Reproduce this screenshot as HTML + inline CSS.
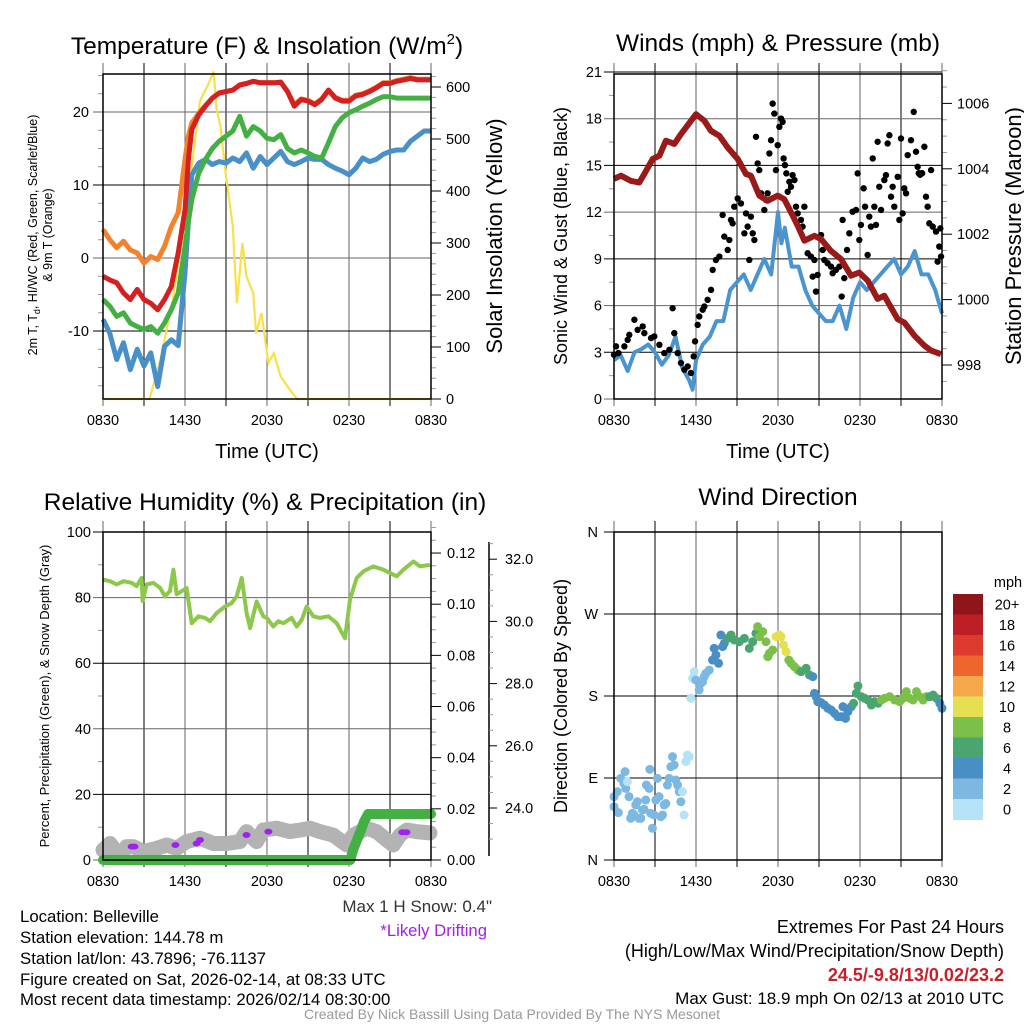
<!DOCTYPE html>
<html><head><meta charset="utf-8"><style>
html,body{margin:0;padding:0;background:#fff;}
svg{display:block;font-family:"Liberation Sans",Arial,sans-serif;}
</style></head><body>
<svg id="fig" width="1024" height="1024" viewBox="0 0 1024 1024" xmlns="http://www.w3.org/2000/svg">
<rect width="1024" height="1024" fill="#fff"/>
<g id="p1"></g>
<g id="p2"></g>
<g id="p3"></g>
<g id="p4"></g>
<text x="267" y="54" font-size="24.5" text-anchor="middle">Temperature (F) &amp; Insolation (W/m<tspan font-size="15" dy="-10">2</tspan><tspan dy="10">)</tspan></text>
<text x="778" y="51" font-size="24.5" text-anchor="middle">Winds (mph) &amp; Pressure (mb)</text>
<text x="265" y="510" font-size="24.5" text-anchor="middle">Relative Humidity (%) &amp; Precipitation (in)</text>
<text x="778" y="505" font-size="24.5" text-anchor="middle">Wind Direction</text>
<g font-size="16.8" fill="#000">
<text x="20" y="922">Location: Belleville</text>
<text x="20" y="943">Station elevation: 144.78 m</text>
<text x="20" y="964">Station lat/lon: 43.7896; -76.1137</text>
<text x="20" y="985">Figure created on Sat, 2026-02-14, at 08:33 UTC</text>
<text x="20" y="1005">Most recent data timestamp: 2026/02/14 08:30:00</text>
</g>
<text x="492" y="912" font-size="17" text-anchor="end" fill="#333">Max 1 H Snow: 0.4"</text>
<text x="487" y="936" font-size="16.7" text-anchor="end" fill="#a020f0">*Likely Drifting</text>
<g font-size="18" text-anchor="end">
<text x="1004" y="933">Extremes For Past 24 Hours</text>
<text x="1004" y="957">(High/Low/Max Wind/Precipitation/Snow Depth)</text>
<text x="1004" y="981" fill="#c8202a" font-weight="bold">24.5/-9.8/13/0.02/23.2</text>
<text x="1004" y="1004" font-size="17">Max Gust: 18.9 mph On 02/13 at 2010 UTC</text>
</g>
<text x="512" y="1019" font-size="14" text-anchor="middle" fill="#999">Created By Nick Bassill Using Data Provided By The NYS Mesonet</text>
</svg>
<script>
// ---------- DATA ----------
const xTickLabels = ["0830","1430","2030","0230","0830"];
// Temperature panel (hours since 0830 UTC)
const tHours = [0,0.5,1,1.5,2,2.5,3,3.5,4,4.5,5,5.5,6,6.25,6.5,7,7.5,8,8.5,9,9.5,10,10.5,11,11.5,12,12.5,13,13.5,14,14.5,15,15.5,16,16.5,17,17.5,18,18.5,19,19.5,20,20.5,21,21.5,22,22.5,23,23.5,24];
const tempT = [-2.5,-3,-3.4,-4.8,-5.7,-4.3,-5.7,-6.2,-7.1,-5.7,-3.9,0.7,6.6,13.5,17.6,19.6,20.8,21.9,22.6,22.8,23,23.7,23.9,24.2,24,24,24,24.1,22.8,20.8,21.7,21.5,21,21.7,23,21.9,21.5,21.5,22.2,22.4,22.8,23.3,23.9,23.9,24.2,24.4,24.6,24.4,24.4,24.4];
const temp9m = [3.9,2.5,1.4,2.3,1.1,0.7,-0.7,0.2,-0.2,1.6,4.3,6.2,13.5,16.7,18.5,19.8,20.9,21.9,22.6,22.8,23,23.7,23.9,24.2,24,24,24,24.1,22.8,21,21.8,21.6,21.1,21.8,23,22,21.6,21.6,22.3,22.5,22.9,23.4,24,24,24.3,24.5,24.7,24.5,24.5,24.5];
const dewT = [-5.7,-6.6,-8,-7.5,-8.9,-9.4,-9.8,-9.4,-10.3,-8.9,-7.1,-4.8,1.6,5,8,11.6,13.5,15,16,16.7,17.4,19.4,16.7,18,17.4,16.4,16.2,16.9,15,14.4,14.8,14.4,13.9,13.7,15.8,18,19.2,19.9,20.3,20.8,21.2,21.7,22.1,22.1,21.9,21.9,21.9,21.9,21.9,21.9];
const heatWC = [-8.4,-10.3,-13.9,-11.6,-15.3,-12.5,-14.8,-13,-17.6,-12.1,-11.2,-12,-2,5,11.4,13,13.5,12.8,13.2,13,13.7,13.2,14.4,12.3,13.9,12.8,13.7,14.6,13.2,12.8,13.2,13.7,13.5,13.5,12.8,12.3,11.9,11.4,12.3,13.7,13.2,13.5,14.2,14.6,14.8,14.8,16,16.7,17.4,17.4];
const solHours = [0,3.4,4.2,5.1,6.1,7.1,7.7,8.1,8.3,8.6,9.0,9.5,9.8,10.2,10.5,11.0,11.2,11.6,12.1,12.5,13.0,13.7,14.2,24];
const solar = [0,0,75,190,364,573,605,630,560,524,428,332,184,300,236,203,126,165,69,88,43,17,0,0];
// Winds panel
const wHours = [0,0.5,1,1.5,2,2.5,3,3.5,4,4.5,5,5.5,5.75,6,6.5,7,7.5,8,8.5,9,9.5,10,10.5,11,11.5,12,12.25,12.5,13,13.5,14,14.5,15,15.5,16,16.5,17,17.5,18,18.5,19,19.5,20,20.5,21,21.5,22,22.5,23,23.5,24];
const windSpd = [2.5,2.8,1.8,3,3.2,3.5,3,2.2,2.8,4,2,1.2,0.6,2.5,3.5,4,5,5,7,7.5,8,7,8,9,8,12,10,11,8.5,8.5,7,6,5.5,5,5,6,4.5,6.5,7.5,7,7.5,8,8.5,9,8,8.5,9.5,8,8,7,5.5];
const pHours = [0,0.51,1.24,1.85,2.22,2.83,3.32,3.8,4.41,4.9,6.0,6.61,7.1,7.71,8.32,9.05,9.66,10.02,10.63,11.24,11.98,12.46,12.95,13.44,13.93,14.66,15.15,15.88,16.61,17.34,17.95,18.56,19.29,19.78,20.76,21.24,21.98,22.71,23.2,23.93];
const pressure = [1003.69,1003.79,1003.63,1003.58,1003.84,1004.3,1004.4,1004.86,1004.76,1005.06,1005.67,1005.47,1005.16,1005.01,1004.65,1004.3,1003.84,1003.79,1003.18,1003.02,1003.18,1003.07,1002.67,1002.26,1001.8,1001.95,1001.85,1001.49,1001.24,1000.73,1000.83,1000.58,1000.02,1000.12,999.4,999.3,998.9,998.59,998.44,998.33];
const gustH = [0,.15,.32,.76,1.0,1.12,1.49,1.73,2.1,2.22,2.71,2.95,3.32,3.68,4.05,4.29,4.41,4.66,4.9,5.15,5.39,5.63,5.83,5.93,6.12,6.24,6.49,6.61,6.85,7.1,7.22,7.46,7.71,7.95,8.07,8.32,8.44,8.56,8.68,8.8,9.05,9.29,9.54,9.66,9.78,9.9,10.02,10.15,10.27,10.39,10.51,10.63,10.76,11.0,11.12,11.24,11.37,11.49,11.61,11.73,11.85,11.98,12.1,12.22,12.34,12.41,12.51,12.61,12.71,12.83,12.95,13.07,13.2,13.32,13.44,13.68,13.8,13.93,14.17,14.41,14.54,14.66,14.78,14.9,15.15,15.27,15.39,15.63,15.88,16.0,16.24,16.49,16.66,16.73,16.85,17.05,17.22,17.46,17.71,17.83,17.95,18.07,18.27,18.37,18.56,18.68,18.8,18.93,19.05,19.17,19.29,19.41,19.54,19.78,19.9,20.02,20.15,20.27,20.39,20.51,20.76,20.88,21.0,21.12,21.24,21.37,21.49,21.73,21.93,22.1,22.22,22.46,22.71,22.83,22.95,23.07,23.2,23.32,23.56,23.68,23.8,23.93,23.88,22.3,22.4,22.55];
const gustV = [2.84,3.38,2.95,3.38,3.8,4.12,5.09,4.44,4.66,4.23,3.91,4.02,3.48,2.95,3.16,5.83,4.23,2.95,2.31,1.88,2.09,1.67,2.74,3.7,4.76,5.3,5.73,5.94,6.37,7.01,8.29,8.93,9.15,11.82,10.43,9.57,10.21,11.5,11.28,12.35,12.88,12.56,10.64,11.92,11.07,8.93,11.71,10.64,10.21,16.84,15.13,14.7,13.21,12.14,12.78,13.21,15.77,16.62,18.97,18.33,14.7,16.3,17.48,18.01,17.8,15.45,15.02,14.49,13.31,13.95,13.63,14.38,14.06,12.35,11.92,11.5,11.07,12.35,9.36,9.15,7.86,8.93,6.9,7.97,10.53,9.57,8.93,8.72,8.5,8.08,8.29,8.5,6.58,11.5,7.76,9.57,10.64,12.03,12.14,14.49,10.21,11.18,13.53,12.35,9.25,11.71,11.07,15.45,12.35,11.18,16.52,13.63,12.14,14.06,14.38,16.41,16.94,12.99,13.63,12.35,14.27,11.5,16.73,11.92,13.53,13.21,15.66,16.62,18.44,15.88,14.91,14.49,16.2,12.99,12.35,11.28,14.7,11.07,10.75,8.82,9.79,9.15,10.96,14.5,14.4,14.5];
// Humidity panel
const rhHours = [0,0.51,1.0,1.49,2.1,2.46,2.83,2.9,3.19,3.68,4.17,4.54,4.9,5.15,5.39,6.12,6.49,6.98,7.46,7.83,8.32,8.93,9.41,9.78,10.15,10.51,10.76,11.24,11.73,11.98,12.46,12.83,13.2,13.8,14.17,14.54,14.9,15.39,15.88,16.49,17.1,17.71,18.07,18.56,19.05,19.78,20.51,21.49,21.98,22.71,23.2,23.93];
const rhVals = [85.5,85,84,85,84.5,83.5,86,79,84,84.5,83,80.4,82,88.5,81,82.9,72.2,74.3,73.8,72.8,75.3,77.3,78.3,80.4,86,75.3,70.7,78.8,74.3,73.8,71.2,72.8,72.2,73.8,71.2,73.2,77.3,74.3,73.8,74.3,72.2,67.6,79.4,86,88,89.5,88.5,86.5,88.5,91,89.5,90];
const prHours = [0,18.1,18.3,18.6,18.9,19.1,19.4,24];
const precip = [0,0,0.004,0.008,0.012,0.015,0.018,0.018];
const sdHours = [0,0.51,1.24,1.73,2.22,2.95,3.92,4.66,5.39,6.12,7.1,8.07,9.05,10.02,10.51,11.24,11.73,12.71,13.68,14.41,15.15,15.88,16.85,17.83,18.32,19.29,20.02,20.76,21.24,21.73,22.22,22.95,23.93];
const snowDepth = [22.65,22.86,22.43,22.76,22.76,22.6,22.7,22.81,22.7,22.92,23.03,22.86,22.86,22.92,23.24,22.92,23.29,23.35,23.24,23.29,23.35,23.24,23.13,22.81,23.13,23.35,23.24,22.97,22.81,23.13,23.29,23.24,23.2];
const driftH = [2.1,2.3,5.3,6.85,7.1,10.5,12.1,21.9,22.2];
const driftD = [22.76,22.76,22.81,22.86,22.97,23.13,23.24,23.22,23.22];
// Wind direction panel
const dirH = [0,0,.24,.32,.49,.73,.86,.81,.98,1.1,1.22,1.34,1.47,1.59,1.71,1.83,1.96,2.08,2.2,2.32,2.37,2.57,2.62,2.69,2.81,2.93,3.06,3.18,3.3,3.42,3.55,3.67,3.79,3.91,4.03,4.16,4.28,4.4,4.52,4.65,4.77,4.89,5.01,5.13,5.26,5.38,5.5,
5.62,5.75,5.87,5.99,6.23,6.36,6.48,6.6,6.72,6.97,7.21,7.33,7.46,7.65,7.82,7.95,8.07,8.31,8.56,8.8,9.17,9.54,9.9,10.15,10.39,10.51,10.64,10.88,11.12,11.25,11.37,11.61,11.86,12.1,12.22,12.4,12.59,12.79,12.96,13.2,13.45,13.69,14.06,14.3,14.55,14.67,14.79,14.91,15.16,15.4,15.65,15.89,16.14,16.38,16.63,16.75,16.94,17.11,17.36,17.53,17.73,17.85,18.09,18.34,18.58,18.83,19.07,19.32,19.56,19.8,20.17,20.54,20.9,21.15,21.39,21.64,21.88,22.13,22.37,22.62,22.86,23.1,23.35,23.59,23.84,24.0];
const dirDeg = [69.5,58.5,75,52,89.6,84,78.6,97,86,69.5,45.7,51.2,49.4,60.4,64,45.7,45.7,54.9,55.6,65.8,82.3,78.6,99.5,51.2,34.8,49.4,65.8,89.6,69.5,47.5,49.4,60.4,62,82.3,89.6,102.4,113.4,104.3,87.8,82.3,75,64,75,49.4,108,115.2,113.4,
177.5,199.4,206.7,197.6,186.6,193.9,195.7,201.2,204.9,208.5,219.5,232.3,225,215.9,247,234.2,237.8,243.3,247,241.5,239.6,243.3,232.3,239.6,248.8,256.1,245.1,250.6,239.6,223.2,226.8,230.5,245.1,247,245.1,236,228.7,219.5,215.9,212.2,208.5,206.7,210.4,203.1,201.2,182.9,179.3,173.8,172.7,170.1,166.5,164.6,161,157.3,157.3,168.3,155.5,162.8,168.3,172,182.9,191,179.3,177.5,175.6,170.1,173.8,172,175.6,177.5,179.3,175.6,173.8,177.5,184.8,177.5,175.6,184.8,179.3,175.6,179.3,179.3,181.1,177.5,172,166.5];
const speedBinLabels = ["0","2","4","6","8","10","12","14","16","18","20+"];
const speedBinColors = ["#b5e2f6","#7db8e2","#4a8ec6","#4aa570","#7cc04a","#e5e052","#f5a84a","#ef652e","#df3a2e","#be1e26","#8e1519"];

// ---------- HELPERS ----------
const NS="http://www.w3.org/2000/svg";
function mk(parent,tag,attrs,text){const e=document.createElementNS(NS,tag);for(const k in attrs)e.setAttribute(k,attrs[k]);if(text!==undefined)e.textContent=text;parent.appendChild(e);return e;}
function pathD(xs,ys,fx,fy){return xs.map((h,i)=>(i?'L':'M')+fx(h).toFixed(1)+' '+fy(ys[i]).toFixed(1)).join(' ');}
function frame(g,L,T,R,B){
  for(let k=0;k<=8;k++){const x=L+k*(R-L)/8;
    const v=mk(g,'line',{x1:x,y1:T-11,x2:x,y2:B+7,stroke:k%2?'#000':'#666','stroke-width':1});
    
    }
  for(let i=0;i<5;i++){const t=mk(g,'text',{x:L+i*(R-L)/4,y:B+26,'font-size':14.5,'text-anchor':'middle'},xTickLabels[i]);
    
    }
}
function box(g,L,T,R,B){const r=mk(g,'rect',{x:L,y:T,width:R-L,height:B-T,fill:'none',stroke:'#000','stroke-width':1.5});
  
  }
function hgrid(g,L,R,y,dark){const l=mk(g,'line',{x1:L-10,y1:y,x2:R,y2:y,stroke:dark?'#000':'#666','stroke-width':1});
  
  }
function ylab(g,x,y,txt,anchor){const t=mk(g,'text',{x:x,y:y+5,'font-size':14.5,'text-anchor':anchor},txt);
  
  }
function rtick(g,x,y,len){mk(g,'line',{x1:x,y1:y,x2:x+len,y2:y,stroke:len>6?'#000':'#999','stroke-width':1});}

// ---------- PANEL 1 ----------
(function(){
const g=document.getElementById('p1');const L=103,R=431,T=74,B=399;
const X=h=>L+h*(R-L)/24, YT=t=>258-t*7.3, YS=s=>399-s*0.52;
frame(g,L,T,R,B);
[-10,0,10,20].forEach((v,i)=>{hgrid(g,L,R,YT(v),i%2==0);ylab(g,L-14,YT(v),String(v),'end');});
for(let v=-17.5;v<=25;v+=2.5){if(v%10)mk(g,'line',{x1:L-5,y1:YT(v),x2:L,y2:YT(v),stroke:'#999'});}
for(let s=0;s<=620;s+=20){rtick(g,R,YS(s),s%100==0?10:5);}
[0,100,200,300,400,500,600].forEach(s=>ylab(g,R+15,YS(s),String(s),'start'));
const sol=mk(g,'path',{d:pathD(solHours,solar,X,YS),fill:'none',stroke:'#f7e04a','stroke-width':2.2});


const series=[[heatWC,'#4a90c8','windchill-line'],[dewT,'#44b044','dewpoint-line'],[temp9m,'#f2822e','temp-9m-line'],[tempT,'#d42020','temp-2m-line']];
series.forEach(s=>{const p=mk(g,'path',{d:pathD(tHours,s[0],X,YT),fill:'none',stroke:s[1],'stroke-width':5,'stroke-linejoin':'round'});
  
  });
box(g,L,T,R,B);
let t=mk(g,'text',{x:267,y:458,'font-size':20,'text-anchor':'middle'},'Time (UTC)');


t=mk(g,'text',{transform:'translate(502,236) rotate(-90)','font-size':22,'text-anchor':'middle'},'Solar Insolation (Yellow)');


t=mk(g,'text',{transform:'translate(37,235) rotate(-90)','font-size':12.5,'text-anchor':'middle'});


t.innerHTML='2m T, T<tspan font-size="9" dy="3">d</tspan><tspan dy="-3">, HI/WC (Red, Green, Scarlet/Blue)</tspan>';
t=mk(g,'text',{transform:'translate(52,235) rotate(-90)','font-size':12.5,'text-anchor':'middle'},'& 9m T (Orange)');


})();

// ---------- PANEL 2 ----------
(function(){
const g=document.getElementById('p2');const L=614,R=942,T=74,B=399;
const X=h=>L+h*(R-L)/24, YW=v=>399-v*15.571, YP=p=>365-(p-998)*32.7;
frame(g,L,T,R,B);
[0,3,6,9,12,15,18,21].forEach((v,i)=>{hgrid(g,L,R,YW(v),i%2==1);ylab(g,L-12,YW(v),String(v),'end');});
for(let v=1.5;v<21;v+=3){mk(g,'line',{x1:L-5,y1:YW(v),x2:L,y2:YW(v),stroke:'#999'});}
for(let p=997.5;p<=1007;p+=0.5){rtick(g,R,YP(p),p%2==0?10:5);}
[998,1000,1002,1004,1006].forEach(p=>ylab(g,R+15,YP(p),String(p),'start'));
let w=mk(g,'path',{d:pathD(wHours,windSpd,X,YW),fill:'none',stroke:'#4a94d0','stroke-width':4,'stroke-linejoin':'round'});


gustH.forEach((h,i)=>{const c=mk(g,'circle',{cx:X(h),cy:YW(gustV[i]),r:3.2,fill:'#000'});
  
  });
w=mk(g,'path',{d:pathD(pHours,pressure,X,YP),fill:'none',stroke:'#9a1a1a','stroke-width':6,'stroke-linejoin':'round'});


box(g,L,T,R,B);
let t=mk(g,'text',{x:778,y:458,'font-size':20,'text-anchor':'middle'},'Time (UTC)');


t=mk(g,'text',{transform:'translate(567,236) rotate(-90)','font-size':18,'text-anchor':'middle'},'Sonic Wind & Gust (Blue, Black)');


t=mk(g,'text',{transform:'translate(1021,236) rotate(-90)','font-size':22,'text-anchor':'middle'},'Station Pressure (Maroon)');


})();

// ---------- PANEL 3 ----------
(function(){
const g=document.getElementById('p3');const L=103,R=431,T=532,B=860;
const X=h=>L+h*(R-L)/24, YR=r=>860-r*3.28, YPr=p=>860-p*2558, YSD=d=>808-(d-24)*31.1;
frame(g,L,T,R,B);
[0,20,40,60,80,100].forEach((v,i)=>{hgrid(g,L,R,YR(v),i%2==1);ylab(g,L-12,YR(v),String(v),'end');});
for(let v=10;v<100;v+=20){mk(g,'line',{x1:L-5,y1:YR(v),x2:L,y2:YR(v),stroke:'#999'});}
for(let p=0;p<=0.1301;p+=0.005){rtick(g,R,YPr(p),Math.round(p*1000)%20==0?10:5);}
[0,0.02,0.04,0.06,0.08,0.10,0.12].forEach(p=>ylab(g,R+16,YPr(p),p.toFixed(2),'start'));
const ax=mk(g,'line',{x1:489,y1:542,x2:489,y2:856,stroke:'#000','stroke-width':1.5});


for(let d=23;d<=32.6;d+=0.5){mk(g,'line',{x1:489,y1:YSD(d),x2:489+(d%2==0?8:4),y2:YSD(d),stroke:d%2==0?'#000':'#999'});}
[24,26,28,30,32].forEach(d=>ylab(g,505,YSD(d),d.toFixed(1),'start'));
let p=mk(g,'path',{d:pathD(sdHours,snowDepth,X,YSD),fill:'none',stroke:'#b3b3b3','stroke-width':15,'stroke-linejoin':'round','stroke-linecap':'round'});


driftH.forEach((h,i)=>{const c=mk(g,'ellipse',{cx:X(h),cy:YSD(driftD[i]),rx:4,ry:3,fill:'#a020f0'});
  
  });
p=mk(g,'path',{d:pathD(prHours,precip,X,YPr),fill:'none',stroke:'#44b044','stroke-width':10,'stroke-linejoin':'round','stroke-linecap':'round'});


p=mk(g,'path',{d:pathD(rhHours,rhVals,X,YR),fill:'none',stroke:'#8cc84b','stroke-width':4,'stroke-linejoin':'round'});


box(g,L,T,R,B);
let t=mk(g,'text',{transform:'translate(49,696) rotate(-90)','font-size':13,'text-anchor':'middle'},'Percent, Precipitation (Green), & Snow Depth (Gray)');


})();

// ---------- PANEL 4 ----------
(function(){
const g=document.getElementById('p4');const L=614,R=942,T=532,B=860;
const X=h=>L+h*(R-L)/24, YD=d=>860-d*0.91111;
frame(g,L,T,R,B);
const dl=['N','E','S','W','N'];
[0,90,180,270,360].forEach((d,i)=>{hgrid(g,L,R,YD(d),true);ylab(g,598,YD(d),dl[i],'end');});
function spdAt(h){for(let i=1;i<wHours.length;i++){if(h<=wHours[i]){const f=(h-wHours[i-1])/(wHours[i]-wHours[i-1]);return windSpd[i-1]+f*(windSpd[i]-windSpd[i-1]);}}return windSpd[windSpd.length-1];}
dirH.forEach((h,i)=>{const s=spdAt(h);const bin=Math.min(10,Math.max(0,Math.floor(s/2)));
  const c=mk(g,'circle',{cx:X(h),cy:YD(dirDeg[i]),r:4.5,fill:speedBinColors[bin]});
  
  });
box(g,L,T,R,B);
let t=mk(g,'text',{transform:'translate(567,696) rotate(-90)','font-size':18,'text-anchor':'middle'},'Direction (Colored By Speed)');


const top=594,h=20.5;
for(let i=0;i<11;i++){const k=10-i;
  const r=mk(g,'rect',{x:953,y:top+i*h,width:30,height:h+0.5,fill:speedBinColors[k]});
  
  
  const lt=mk(g,'text',{x:1007,y:top+i*h+h/2+5,'font-size':14.5,'text-anchor':'middle'},speedBinLabels[k]);
  
  }
t=mk(g,'text',{x:1008,y:587,'font-size':14.5,'text-anchor':'middle'},'mph');


})();
</script>
</body></html>
